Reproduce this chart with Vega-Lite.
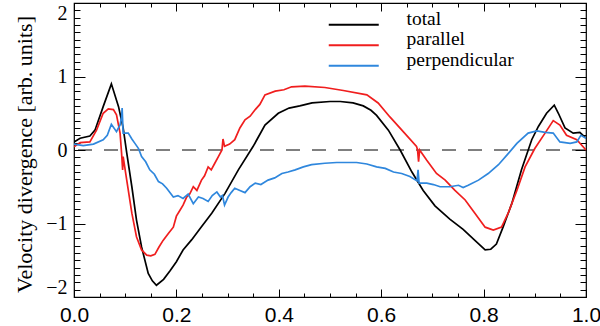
{
  "$schema": "https://vega.github.io/schema/vega-lite/v6.json",
  "width": 512,
  "height": 294,
  "autosize": {"type": "none"},
  "padding": {"left": 74, "top": 3, "right": 14, "bottom": 29},
  "background": "white",
  "config": {
    "view": {"stroke": "black", "strokeWidth": 1.2},
    "axis": {"grid": false, "domain": false, "tickColor": "black", "tickWidth": 1, "labelColor": "black", "titleColor": "black", "tickCap": "butt"}
  },
  "datasets": {
    "curves": [
      {"s":"total","x":0.0,"y":0.11},{"s":"total","x":0.012,"y":0.16},{"s":"total","x":0.031,"y":0.19},{"s":"total","x":0.041,"y":0.27},{"s":"total","x":0.057,"y":0.59},{"s":"total","x":0.073,"y":0.9},{"s":"total","x":0.087,"y":0.59},{"s":"total","x":0.096,"y":0.3},{"s":"total","x":0.103,"y":-0.04},{"s":"total","x":0.113,"y":-0.5},{"s":"total","x":0.122,"y":-0.95},{"s":"total","x":0.132,"y":-1.32},{"s":"total","x":0.145,"y":-1.68},{"s":"total","x":0.153,"y":-1.78},{"s":"total","x":0.161,"y":-1.84},{"s":"total","x":0.175,"y":-1.76},{"s":"total","x":0.188,"y":-1.64},{"s":"total","x":0.2,"y":-1.52},{"s":"total","x":0.213,"y":-1.36},{"s":"total","x":0.23,"y":-1.22},{"s":"total","x":0.246,"y":-1.07},{"s":"total","x":0.269,"y":-0.86},{"s":"total","x":0.295,"y":-0.59},{"s":"total","x":0.321,"y":-0.27},{"s":"total","x":0.35,"y":0.05},{"s":"total","x":0.373,"y":0.34},{"s":"total","x":0.399,"y":0.5},{"s":"total","x":0.42,"y":0.57},{"s":"total","x":0.441,"y":0.6},{"s":"total","x":0.465,"y":0.64},{"s":"total","x":0.5,"y":0.66},{"s":"total","x":0.52,"y":0.66},{"s":"total","x":0.545,"y":0.64},{"s":"total","x":0.565,"y":0.6},{"s":"total","x":0.58,"y":0.54},{"s":"total","x":0.591,"y":0.47},{"s":"total","x":0.614,"y":0.27},{"s":"total","x":0.637,"y":0.0},{"s":"total","x":0.66,"y":-0.3},{"s":"total","x":0.682,"y":-0.55},{"s":"total","x":0.705,"y":-0.76},{"s":"total","x":0.734,"y":-0.94},{"s":"total","x":0.76,"y":-1.08},{"s":"total","x":0.783,"y":-1.23},{"s":"total","x":0.803,"y":-1.36},{"s":"total","x":0.814,"y":-1.35},{"s":"total","x":0.825,"y":-1.28},{"s":"total","x":0.838,"y":-1.05},{"s":"total","x":0.855,"y":-0.73},{"s":"total","x":0.874,"y":-0.27},{"s":"total","x":0.894,"y":0.14},{"s":"total","x":0.907,"y":0.32},{"s":"total","x":0.923,"y":0.5},{"s":"total","x":0.938,"y":0.61},{"s":"total","x":0.946,"y":0.5},{"s":"total","x":0.959,"y":0.3},{"s":"total","x":0.975,"y":0.23},{"s":"total","x":0.988,"y":0.24},{"s":"total","x":1.0,"y":0.16},
      {"s":"parallel","x":0.0,"y":0.045},{"s":"parallel","x":0.012,"y":0.1},{"s":"parallel","x":0.031,"y":0.11},{"s":"parallel","x":0.044,"y":0.27},{"s":"parallel","x":0.057,"y":0.5},{"s":"parallel","x":0.067,"y":0.56},{"s":"parallel","x":0.077,"y":0.55},{"s":"parallel","x":0.083,"y":0.48},{"s":"parallel","x":0.09,"y":0.23},{"s":"parallel","x":0.093,"y":-0.05},{"s":"parallel","x":0.095,"y":-0.27},{"s":"parallel","x":0.096,"y":-0.09},{"s":"parallel","x":0.103,"y":-0.41},{"s":"parallel","x":0.113,"y":-0.86},{"s":"parallel","x":0.122,"y":-1.18},{"s":"parallel","x":0.132,"y":-1.36},{"s":"parallel","x":0.142,"y":-1.43},{"s":"parallel","x":0.15,"y":-1.44},{"s":"parallel","x":0.158,"y":-1.42},{"s":"parallel","x":0.166,"y":-1.32},{"s":"parallel","x":0.174,"y":-1.23},{"s":"parallel","x":0.185,"y":-1.13},{"s":"parallel","x":0.194,"y":-1.05},{"s":"parallel","x":0.2,"y":-0.9},{"s":"parallel","x":0.207,"y":-0.82},{"s":"parallel","x":0.213,"y":-0.75},{"s":"parallel","x":0.22,"y":-0.64},{"s":"parallel","x":0.226,"y":-0.6},{"s":"parallel","x":0.233,"y":-0.5},{"s":"parallel","x":0.24,"y":-0.55},{"s":"parallel","x":0.249,"y":-0.41},{"s":"parallel","x":0.255,"y":-0.35},{"s":"parallel","x":0.262,"y":-0.23},{"s":"parallel","x":0.268,"y":-0.27},{"s":"parallel","x":0.275,"y":-0.18},{"s":"parallel","x":0.282,"y":-0.09},{"s":"parallel","x":0.289,"y":0.0},{"s":"parallel","x":0.291,"y":0.15},{"s":"parallel","x":0.294,"y":0.05},{"s":"parallel","x":0.304,"y":0.08},{"s":"parallel","x":0.314,"y":0.14},{"s":"parallel","x":0.324,"y":0.3},{"s":"parallel","x":0.334,"y":0.41},{"s":"parallel","x":0.344,"y":0.46},{"s":"parallel","x":0.354,"y":0.55},{"s":"parallel","x":0.363,"y":0.62},{"s":"parallel","x":0.373,"y":0.75},{"s":"parallel","x":0.393,"y":0.8},{"s":"parallel","x":0.41,"y":0.82},{"s":"parallel","x":0.425,"y":0.86},{"s":"parallel","x":0.451,"y":0.87},{"s":"parallel","x":0.49,"y":0.85},{"s":"parallel","x":0.526,"y":0.81},{"s":"parallel","x":0.572,"y":0.75},{"s":"parallel","x":0.594,"y":0.64},{"s":"parallel","x":0.617,"y":0.45},{"s":"parallel","x":0.643,"y":0.25},{"s":"parallel","x":0.669,"y":0.05},{"s":"parallel","x":0.671,"y":0.0},{"s":"parallel","x":0.673,"y":-0.16},{"s":"parallel","x":0.675,"y":0.0},{"s":"parallel","x":0.689,"y":-0.14},{"s":"parallel","x":0.708,"y":-0.32},{"s":"parallel","x":0.725,"y":-0.41},{"s":"parallel","x":0.744,"y":-0.55},{"s":"parallel","x":0.764,"y":-0.68},{"s":"parallel","x":0.783,"y":-0.86},{"s":"parallel","x":0.803,"y":-1.05},{"s":"parallel","x":0.819,"y":-1.09},{"s":"parallel","x":0.835,"y":-1.05},{"s":"parallel","x":0.848,"y":-0.86},{"s":"parallel","x":0.865,"y":-0.55},{"s":"parallel","x":0.881,"y":-0.23},{"s":"parallel","x":0.9,"y":0.02},{"s":"parallel","x":0.92,"y":0.23},{"s":"parallel","x":0.936,"y":0.4},{"s":"parallel","x":0.949,"y":0.34},{"s":"parallel","x":0.962,"y":0.2},{"s":"parallel","x":0.982,"y":0.14},{"s":"parallel","x":1.0,"y":0.0},
      {"s":"perpendicular","x":0.0,"y":0.08},{"s":"perpendicular","x":0.018,"y":0.06},{"s":"perpendicular","x":0.038,"y":0.08},{"s":"perpendicular","x":0.057,"y":0.14},{"s":"perpendicular","x":0.065,"y":0.2},{"s":"perpendicular","x":0.073,"y":0.35},{"s":"perpendicular","x":0.083,"y":0.25},{"s":"perpendicular","x":0.09,"y":0.34},{"s":"perpendicular","x":0.093,"y":0.45},{"s":"perpendicular","x":0.094,"y":0.57},{"s":"perpendicular","x":0.096,"y":0.23},{"s":"perpendicular","x":0.106,"y":0.23},{"s":"perpendicular","x":0.113,"y":0.15},{"s":"perpendicular","x":0.119,"y":0.09},{"s":"perpendicular","x":0.126,"y":0.02},{"s":"perpendicular","x":0.132,"y":-0.09},{"s":"perpendicular","x":0.14,"y":-0.16},{"s":"perpendicular","x":0.148,"y":-0.27},{"s":"perpendicular","x":0.157,"y":-0.33},{"s":"perpendicular","x":0.165,"y":-0.43},{"s":"perpendicular","x":0.173,"y":-0.46},{"s":"perpendicular","x":0.181,"y":-0.52},{"s":"perpendicular","x":0.194,"y":-0.64},{"s":"perpendicular","x":0.203,"y":-0.62},{"s":"perpendicular","x":0.213,"y":-0.66},{"s":"perpendicular","x":0.223,"y":-0.6},{"s":"perpendicular","x":0.233,"y":-0.73},{"s":"perpendicular","x":0.243,"y":-0.64},{"s":"perpendicular","x":0.252,"y":-0.66},{"s":"perpendicular","x":0.262,"y":-0.7},{"s":"perpendicular","x":0.27,"y":-0.62},{"s":"perpendicular","x":0.279,"y":-0.57},{"s":"perpendicular","x":0.286,"y":-0.64},{"s":"perpendicular","x":0.29,"y":-0.62},{"s":"perpendicular","x":0.294,"y":-0.75},{"s":"perpendicular","x":0.301,"y":-0.64},{"s":"perpendicular","x":0.307,"y":-0.58},{"s":"perpendicular","x":0.314,"y":-0.52},{"s":"perpendicular","x":0.324,"y":-0.55},{"s":"perpendicular","x":0.334,"y":-0.58},{"s":"perpendicular","x":0.344,"y":-0.5},{"s":"perpendicular","x":0.354,"y":-0.45},{"s":"perpendicular","x":0.365,"y":-0.47},{"s":"perpendicular","x":0.379,"y":-0.41},{"s":"perpendicular","x":0.392,"y":-0.38},{"s":"perpendicular","x":0.406,"y":-0.32},{"s":"perpendicular","x":0.418,"y":-0.3},{"s":"perpendicular","x":0.432,"y":-0.27},{"s":"perpendicular","x":0.448,"y":-0.23},{"s":"perpendicular","x":0.464,"y":-0.2},{"s":"perpendicular","x":0.49,"y":-0.18},{"s":"perpendicular","x":0.513,"y":-0.17},{"s":"perpendicular","x":0.552,"y":-0.17},{"s":"perpendicular","x":0.572,"y":-0.19},{"s":"perpendicular","x":0.591,"y":-0.23},{"s":"perpendicular","x":0.608,"y":-0.25},{"s":"perpendicular","x":0.624,"y":-0.3},{"s":"perpendicular","x":0.64,"y":-0.32},{"s":"perpendicular","x":0.656,"y":-0.36},{"s":"perpendicular","x":0.67,"y":-0.42},{"s":"perpendicular","x":0.672,"y":-0.27},{"s":"perpendicular","x":0.674,"y":-0.45},{"s":"perpendicular","x":0.689,"y":-0.45},{"s":"perpendicular","x":0.702,"y":-0.47},{"s":"perpendicular","x":0.715,"y":-0.5},{"s":"perpendicular","x":0.734,"y":-0.5},{"s":"perpendicular","x":0.751,"y":-0.48},{"s":"perpendicular","x":0.76,"y":-0.51},{"s":"perpendicular","x":0.77,"y":-0.48},{"s":"perpendicular","x":0.79,"y":-0.41},{"s":"perpendicular","x":0.809,"y":-0.32},{"s":"perpendicular","x":0.829,"y":-0.2},{"s":"perpendicular","x":0.848,"y":-0.05},{"s":"perpendicular","x":0.865,"y":0.09},{"s":"perpendicular","x":0.887,"y":0.23},{"s":"perpendicular","x":0.904,"y":0.26},{"s":"perpendicular","x":0.92,"y":0.24},{"s":"perpendicular","x":0.936,"y":0.23},{"s":"perpendicular","x":0.949,"y":0.11},{"s":"perpendicular","x":0.969,"y":0.09},{"s":"perpendicular","x":0.982,"y":0.11},{"s":"perpendicular","x":0.99,"y":0.2},{"s":"perpendicular","x":1.0,"y":0.16}
    ],
    "zero": [{"x": 0, "y": 0}]
  },
  "layer": [
    {
      "data": {"name": "zero"},
      "mark": {"type": "rule", "color": "black", "strokeWidth": 1, "strokeDash": [14, 12]},
      "encoding": {
        "y": {"field": "y", "type": "quantitative", "scale": {"domain": [-2, 2], "nice": false, "zero": false},
              "axis": {"orient": "left", "values": [-2, -1, 0, 1, 2], "tickSize": -11, "labels": false, "title": null}}
      }
    },
    {
      "data": {"name": "curves"},
      "mark": {"type": "line", "strokeWidth": 1.7, "clip": true},
      "encoding": {
        "x": {"field": "x", "type": "quantitative", "scale": {"domain": [0, 1], "nice": false, "zero": false},
              "axis": {"orient": "bottom", "values": [0, 0.2, 0.4, 0.6, 0.8, 1.0], "format": ".1f", "ticks": false, "labelFont": "Liberation Sans", "labelFontSize": 21, "labelPadding": 7, "labelFlush": false, "labelOverlap": false, "title": null}},
        "y": {"field": "y", "type": "quantitative", "scale": {"domain": [-2, 2], "nice": false, "zero": false},
              "axis": {"orient": "left", "values": [-2, -1, 0, 1, 2], "format": "d", "ticks": false, "labelFont": "Liberation Serif", "labelFontSize": 20, "labelPadding": 7, "labelFlush": true, "labelOverlap": false,
                       "title": "Velocity divergence [arb. units]", "titleFont": "Liberation Serif", "titleFontSize": 22, "titleFontWeight": "normal", "titleX": -50, "titleY": 151, "titleBaseline": "middle"}},
        "color": {"field": "s", "type": "nominal",
                  "scale": {"domain": ["total", "parallel", "perpendicular"], "range": ["#000000", "#f01e1e", "#2f87dd"]},
                  "legend": {"orient": "none", "legendX": 270, "legendY": 12, "title": null, "padding": 0,
                             "symbolType": "M-5,0L5,0", "symbolSize": 100, "symbolStrokeWidth": 2,
                             "labelFont": "Liberation Serif", "labelFontSize": 19.5, "labelColor": "black", "labelOffset": 43, "rowPadding": -0.5, "labelBaseline": "alphabetic"}}
      }
    },
    {
      "data": {"name": "zero"},
      "mark": {"type": "point", "opacity": 0},
      "encoding": {
        "x": {"field": "x", "type": "quantitative", "scale": {"domain": [0, 1], "nice": false, "zero": false},
              "axis": {"orient": "bottom", "values": [0, 0.2, 0.4, 0.6, 0.8, 1.0], "tickSize": -8, "labels": false, "title": null}},
        "y": {"field": "y", "type": "quantitative", "scale": {"domain": [-2, 2], "nice": false, "zero": false},
              "axis": {"orient": "left", "values": [-1.9,-1.8,-1.7,-1.6,-1.5,-1.4,-1.3,-1.2,-1.1,-0.9,-0.8,-0.7,-0.6,-0.5,-0.4,-0.3,-0.2,-0.1,0.1,0.2,0.3,0.4,0.5,0.6,0.7,0.8,0.9,1.1,1.2,1.3,1.4,1.5,1.6,1.7,1.8,1.9], "tickSize": -6, "labels": false, "title": null}}
      }
    },
    {
      "data": {"name": "zero"},
      "mark": {"type": "point", "opacity": 0},
      "encoding": {
        "x": {"field": "x", "type": "quantitative", "scale": {"domain": [0, 1], "nice": false, "zero": false},
              "axis": {"orient": "bottom", "values": [0.05,0.1,0.15,0.25,0.3,0.35,0.45,0.5,0.55,0.65,0.7,0.75,0.85,0.9,0.95], "tickSize": -4, "labels": false, "title": null}},
        "y": {"field": "y", "type": "quantitative", "scale": {"domain": [-2, 2], "nice": false, "zero": false},
              "axis": {"orient": "right", "values": [-2, -1, 0, 1, 2], "tickSize": -11, "labels": false, "title": null}}
      }
    },
    {
      "data": {"name": "zero"},
      "mark": {"type": "point", "opacity": 0},
      "encoding": {
        "x": {"field": "x", "type": "quantitative", "scale": {"domain": [0, 1], "nice": false, "zero": false},
              "axis": {"orient": "top", "values": [0, 0.2, 0.4, 0.6, 0.8, 1.0], "tickSize": -8, "labels": false, "title": null}},
        "y": {"field": "y", "type": "quantitative", "scale": {"domain": [-2, 2], "nice": false, "zero": false},
              "axis": {"orient": "right", "values": [-1.9,-1.8,-1.7,-1.6,-1.5,-1.4,-1.3,-1.2,-1.1,-0.9,-0.8,-0.7,-0.6,-0.5,-0.4,-0.3,-0.2,-0.1,0.1,0.2,0.3,0.4,0.5,0.6,0.7,0.8,0.9,1.1,1.2,1.3,1.4,1.5,1.6,1.7,1.8,1.9], "tickSize": -6, "labels": false, "title": null}}
      }
    },
    {
      "data": {"name": "zero"},
      "mark": {"type": "point", "opacity": 0},
      "encoding": {
        "x": {"field": "x", "type": "quantitative", "scale": {"domain": [0, 1], "nice": false, "zero": false},
              "axis": {"orient": "top", "values": [0.05,0.1,0.15,0.25,0.3,0.35,0.45,0.5,0.55,0.65,0.7,0.75,0.85,0.9,0.95], "tickSize": -4, "labels": false, "title": null}},
        "y": {"field": "y", "type": "quantitative", "scale": {"domain": [-2, 2], "nice": false, "zero": false}, "axis": null}
      }
    }
  ],
  "resolve": {"axis": {"x": "independent", "y": "independent"}}
}
